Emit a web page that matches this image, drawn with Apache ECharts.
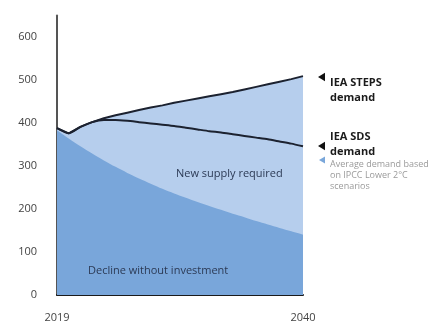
<!DOCTYPE html>
<html>
<head>
<meta charset="utf-8">
<script src="https://cdn.jsdelivr.net/npm/echarts@6/dist/echarts.min.js"></script>
<style>
  html, body { margin: 0; padding: 0; background: #ffffff; }
  #chart { width: 431px; height: 325px; }
</style>
</head>
<body>
<div id="chart"></div>
<script>
// Years on the horizontal axis
const years = ['2019','2020','2021','2022','2023','2024','2025','2026','2027','2028','2029',
               '2030','2031','2032','2033','2034','2035','2036','2037','2038','2039','2040'];

// IEA Stated Policies demand
const stepsDemand = [388, 376, 391, 402, 411, 418, 424, 430, 436, 441, 447,
                     452, 457, 462, 467, 472, 478, 484, 490, 496, 502, 509];

// IEA Sustainable Development demand
const sdsDemand = [388, 376, 391, 402, 407, 407, 405, 402, 399, 396, 393,
                   389, 385, 381, 378, 374, 370, 366, 362, 357, 352, 346];

// Supply from existing fields with no new investment
const declineSupply = [383, 364, 346, 329, 313, 298, 284, 271, 259, 247, 236,
                       226, 216, 207, 198, 189, 181, 172, 164, 156, 148, 140];

const yTicks = [0, 100, 200, 300, 400, 500, 600];

const FONT = '"Open Sans", "Noto Sans", sans-serif';
const DARK_BLUE = '#79a6da';
const LIGHT_BLUE = '#b6ceed';

const chart = echarts.init(document.getElementById('chart'));

function label(text, x, y, style) {
  return {
    type: 'text', left: x, top: y,
    style: Object.assign({ text: text, font: '11px ' + FONT, fill: '#1b1b1b', verticalAlign: 'middle' }, style || {}),
    z: 100
  };
}

// small left-pointing triangle used as a pointer next to the annotations
function pointer(x, y, color, size) {
  return {
    type: 'polygon',
    shape: { points: [[x, y], [x + size, y - size * 0.6], [x + size, y + size * 0.6]] },
    style: { fill: color },
    z: 100
  };
}

chart.setOption({
  animation: false,
  grid: { left: 57, right: 128, top: 15.5, bottom: 30, containLabel: false },
  xAxis: {
    type: 'category',
    data: years,
    boundaryGap: false,
    axisLine: { lineStyle: { color: '#1a1a1a', width: 2 } },
    axisTick: { show: false },
    axisLabel: {
      interval: function (idx) { return idx === 0 || idx === years.length - 1; },
      color: '#444', fontSize: 11, fontFamily: FONT, margin: 17
    },
    splitLine: { show: false }
  },
  yAxis: {
    type: 'value',
    min: 0, max: 650, interval: 100,
    axisLine: { show: true, lineStyle: { color: '#555', width: 2 } },
    axisTick: { show: false },
    splitLine: { show: false },
    axisLabel: {
      color: '#444', fontSize: 11, fontFamily: FONT, margin: 20,
      formatter: function (v) { return yTicks.indexOf(v) >= 0 ? String(v) : ''; }
    }
  },
  series: [
    {
      name: 'STEPS area',
      type: 'line',
      data: stepsDemand,
      symbol: 'none',
      lineStyle: { width: 0 },
      areaStyle: { color: LIGHT_BLUE, opacity: 1 },
      z: 1
    },
    {
      name: 'Decline without investment',
      type: 'line',
      data: declineSupply,
      symbol: 'none',
      smooth: 0.3,
      lineStyle: { width: 0 },
      areaStyle: { color: DARK_BLUE, opacity: 1 },
      z: 2
    },
    {
      name: 'IEA SDS demand',
      type: 'line',
      data: sdsDemand,
      symbol: 'none',
      smooth: 0.2,
      lineStyle: { color: '#1c2230', width: 2 },
      z: 3
    },
    {
      name: 'IEA STEPS demand',
      type: 'line',
      data: stepsDemand,
      symbol: 'none',
      lineStyle: { color: '#1c2230', width: 2 },
      z: 4
    }
  ],
  graphic: [
    label('New supply required', 176, 168, { font: '11px ' + FONT, fill: '#2c3a55' }),
    label('Decline without investment', 88, 265, { font: '11px ' + FONT, fill: '#2c3a55' }),

    pointer(318, 77, '#111', 7),
    label('IEA STEPS', 330, 77, { font: 'bold 11px ' + FONT }),
    label('demand', 330, 92, { font: 'bold 11px ' + FONT }),

    label('IEA SDS', 330, 131, { font: 'bold 11px ' + FONT }),
    pointer(318, 146, '#111', 7),
    label('demand', 330, 146, { font: 'bold 11px ' + FONT }),

    pointer(319, 160, '#7aa7da', 6),
    label('Average demand based', 330, 160, { font: '9px ' + FONT, fill: '#9a9a9a' }),
    label('on IPCC Lower 2\u00B0C', 330, 171, { font: '9px ' + FONT, fill: '#9a9a9a' }),
    label('scenarios', 330, 182, { font: '9px ' + FONT, fill: '#9a9a9a' })
  ]
});
</script>
</body>
</html>
